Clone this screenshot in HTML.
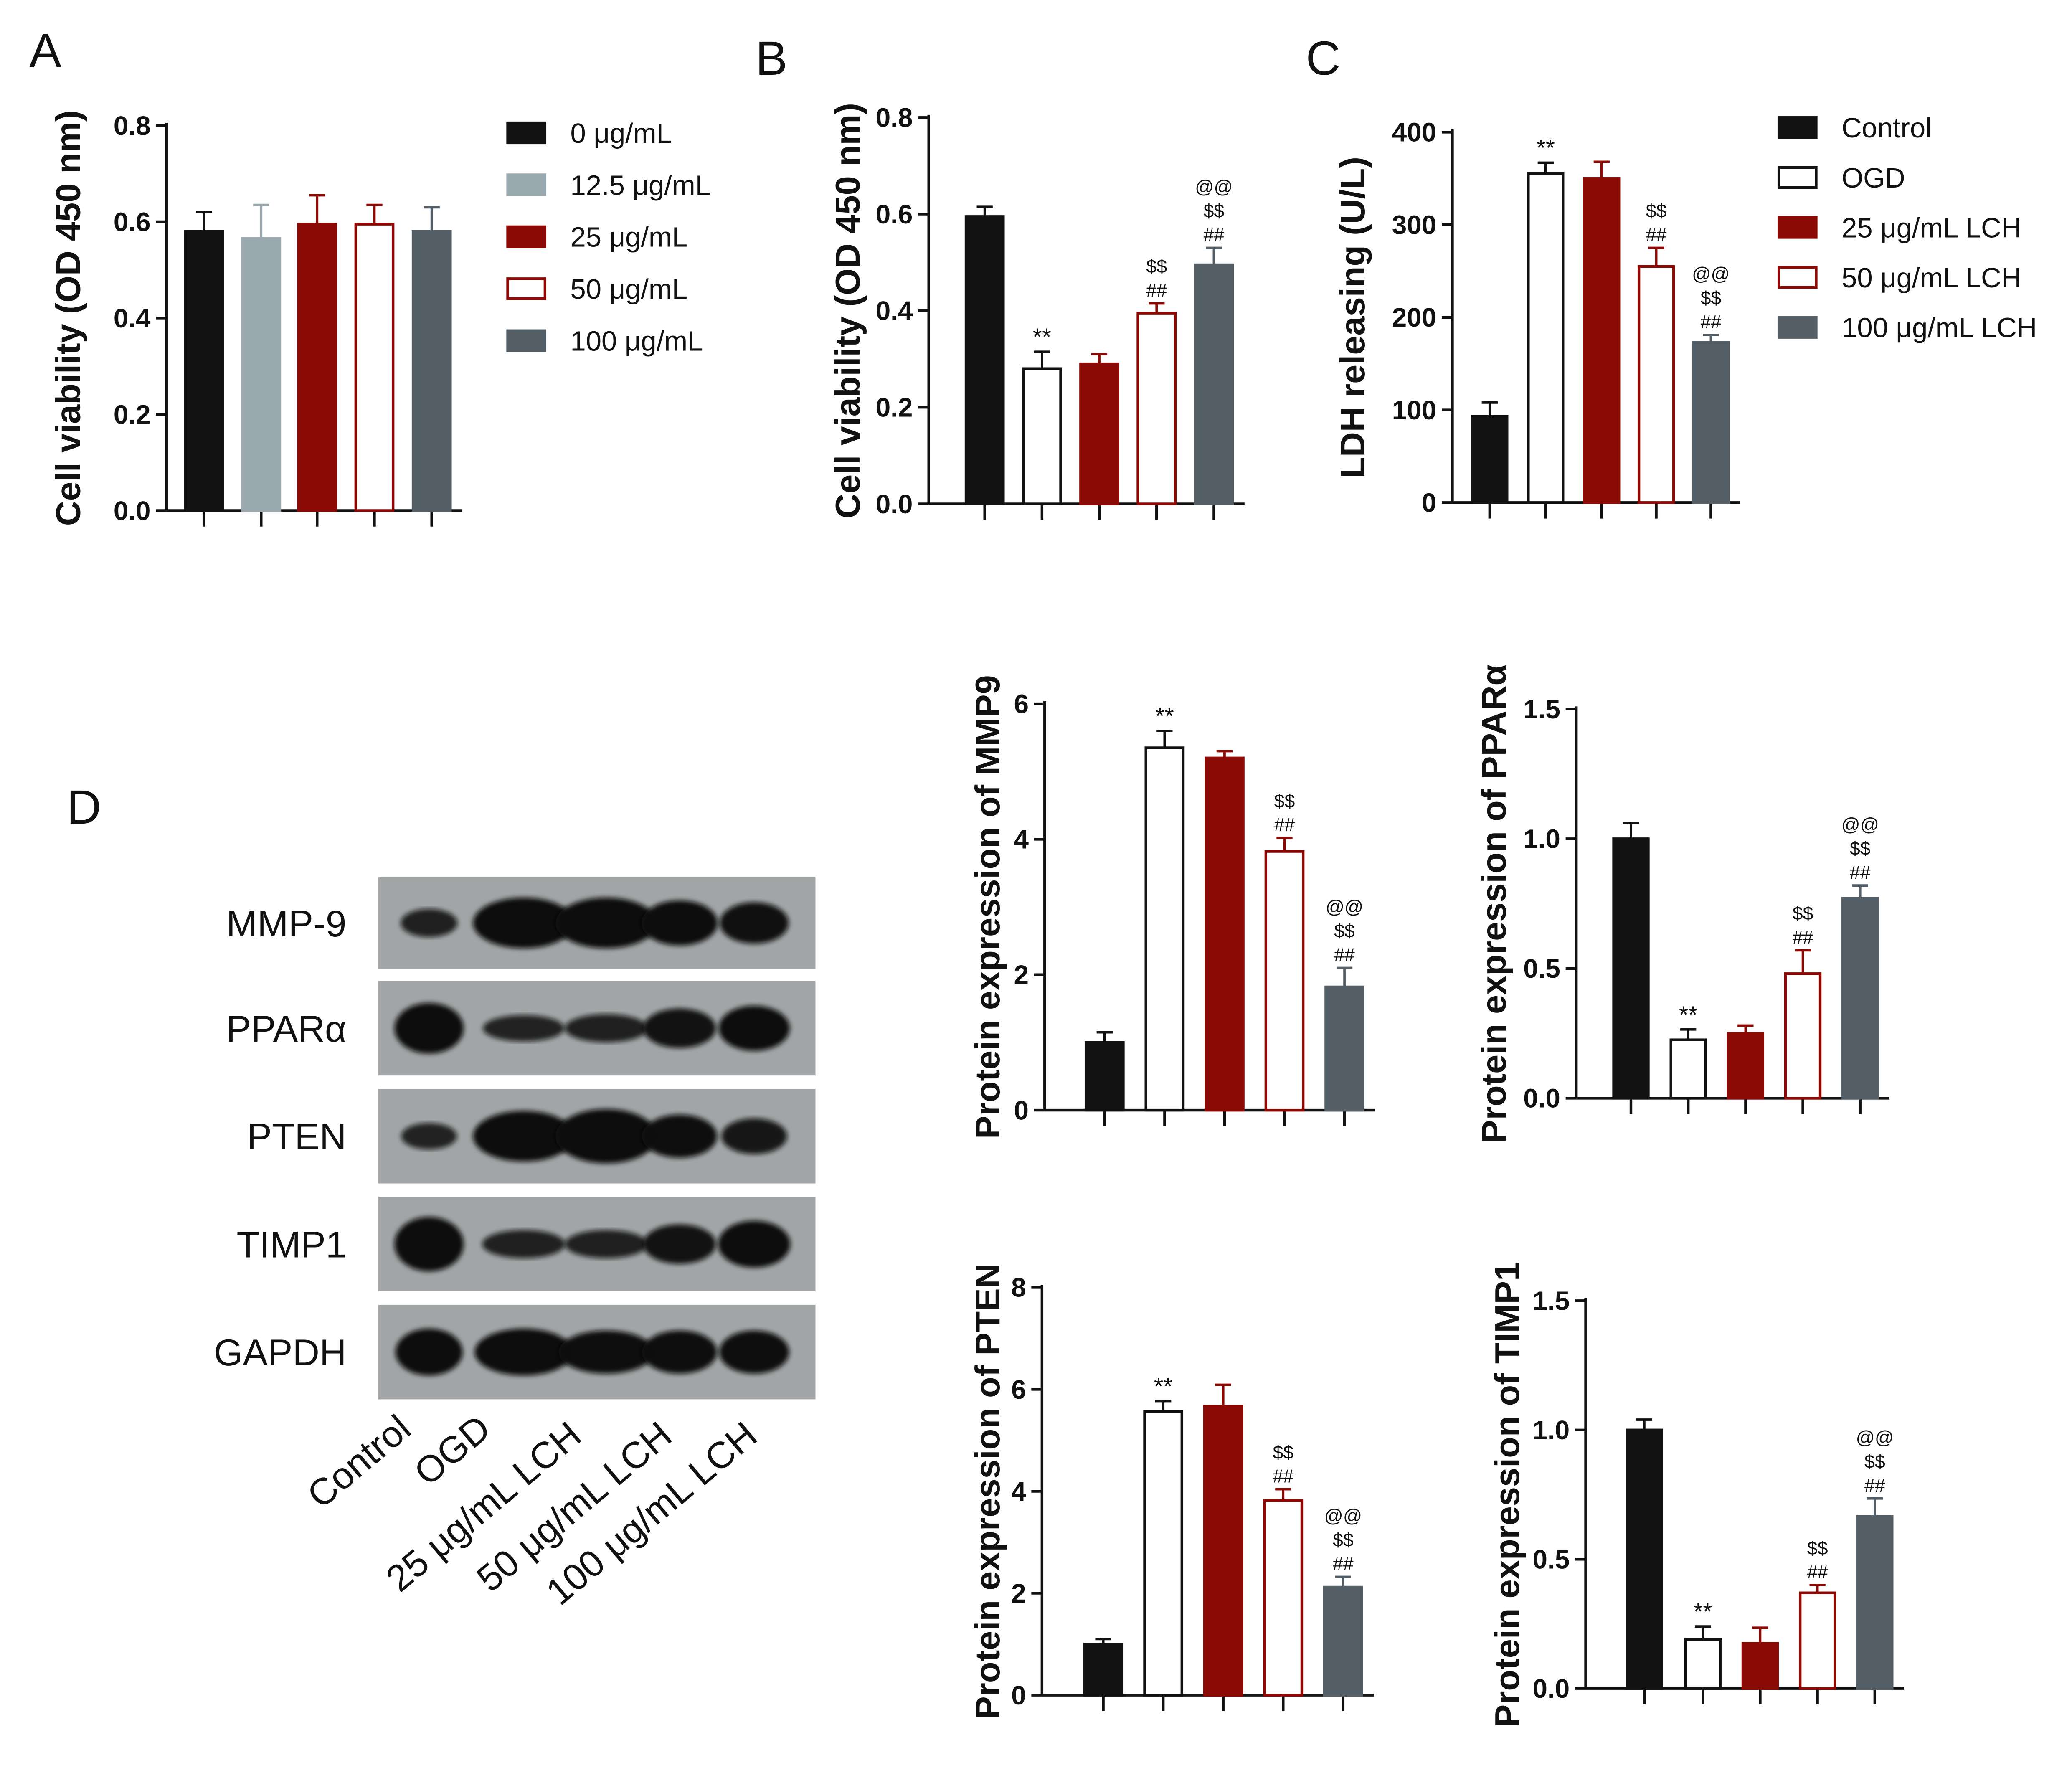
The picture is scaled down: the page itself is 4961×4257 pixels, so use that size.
<!DOCTYPE html>
<html><head><meta charset="utf-8"><style>
html,body{margin:0;padding:0;background:#fff;}
svg{display:block;font-family:"Liberation Sans",Arial,sans-serif;}
</style></head><body>
<svg id="fig" width="4961" height="4257" viewBox="0 0 1555 1334" xmlns="http://www.w3.org/2000/svg">
<defs>
<filter id="blur1"><feGaussianBlur stdDeviation="1.8"/></filter>
</defs>
<g id="root"></g>
</svg>
<script>
// ---------- data ----------
const aValues=[0.58,0.565,0.595,0.595,0.58];
const aErrors=[0.04,0.07,0.06,0.04,0.05];
const aTicks=[0,0.2,0.4,0.6,0.8];
const bValues=[0.595,0.28,0.29,0.395,0.495];
const bErrors=[0.02,0.035,0.02,0.02,0.035];
const bTicks=[0,0.2,0.4,0.6,0.8];
const cValues=[93,355,350,255,173];
const cErrors=[15,12,18,20,8];
const cTicks=[0,100,200,300,400];
const mmpValues=[1,5.35,5.2,3.82,1.82];
const mmpErrors=[0.15,0.25,0.1,0.2,0.28];
const mmpTicks=[0,2,4,6];
const pparValues=[1.0,0.225,0.25,0.48,0.77];
const pparErrors=[0.06,0.04,0.03,0.09,0.05];
const pparTicks=[0,0.5,1.0,1.5];
const ptenValues=[1,5.57,5.67,3.82,2.12];
const ptenErrors=[0.1,0.2,0.42,0.22,0.2];
const ptenTicks=[0,2,4,6,8];
const timpValues=[1,0.19,0.175,0.37,0.665];
const timpErrors=[0.04,0.05,0.06,0.03,0.07];
const timpTicks=[0,0.5,1.0,1.5];
const annotations=[[],["**"],[],["##","$$"],["##","$$","@@"]];
const doseLabels=["0 μg/mL","12.5 μg/mL","25 μg/mL","50 μg/mL","100 μg/mL"];
const groupLabels=["Control","OGD","25 μg/mL LCH","50 μg/mL LCH","100 μg/mL LCH"];

const NS="http://www.w3.org/2000/svg";
const root=document.getElementById('root');
function mk(tag,attrs,parent){const e=document.createElementNS(NS,tag);for(const k in attrs)e.setAttribute(k,attrs[k]);(parent||root).appendChild(e);return e;}
function txt(s,attrs,parent){const e=mk('text',attrs,parent);e.textContent=s;return e;}

const stylesA=[{f:'#111',s:'#111'},{f:'#9aa8b0',s:'#9aa8b0'},{f:'#8b0a05',s:'#8b0a05'},{f:'#fff',s:'#8b0a05'},{f:'#535e66',s:'#535e66'}];
const stylesG=[{f:'#111',s:'#111'},{f:'#fff',s:'#111'},{f:'#8b0a05',s:'#8b0a05'},{f:'#fff',s:'#8b0a05'},{f:'#535e66',s:'#535e66'}];

function chart(name,cfg){
  const g=mk('g',{});
  
  
  const {ax,y0,yTop,max,ticks,centers,values,errors,styles,title,ann,bw,tickFmt}=cfg;
  const y=v=>y0-(v/max)*(y0-yTop);
  const axis=mk('line',{x1:ax,y1:y0,x2:ax,y2:yTop-2,stroke:'#111','stroke-width':2},g);
  
  
  const xEnd=centers[centers.length-1]+bw/2+8;
  const xa=mk('line',{x1:ax,y1:y0,x2:xEnd,y2:y0,stroke:'#111','stroke-width':2},g);
  
  
  ticks.forEach(t=>{
    mk('line',{x1:ax-8,y1:y(t),x2:ax,y2:y(t),stroke:'#111','stroke-width':2},g);
    const tl=txt(tickFmt(t),{x:ax-12,y:y(t)+7,'text-anchor':'end','font-size':20,'font-weight':'bold',fill:'#111'},g);
    
    
  });
  centers.forEach((cx,i)=>{
    mk('line',{x1:cx,y1:y0,x2:cx,y2:y0+12,stroke:'#111','stroke-width':2},g);
    const top=y(values[i]), et=y(values[i]+errors[i]);
    mk('line',{x1:cx,y1:top,x2:cx,y2:et,stroke:styles[i].s,'stroke-width':1.8},g);
    mk('line',{x1:cx-6,y1:et,x2:cx+6,y2:et,stroke:styles[i].s,'stroke-width':1.8},g);
    const r=mk('rect',{x:cx-bw/2+1,y:top,width:bw-2,height:y0-top,fill:styles[i].f,stroke:styles[i].s,'stroke-width':2},g);
    
    
    if(ann){(ann[i]||[]).forEach((a,k)=>{
      const at=txt(a,{x:cx,y:et-5-k*18,'text-anchor':'middle','font-size':a==='**'?18:14,fill:'#111'},g);
      
      
    });}
  });
  const ty=(y0+yTop)/2;
  const tt=txt(title,{x:cfg.titleX,y:ty,transform:`rotate(-90 ${cfg.titleX} ${ty})`,'text-anchor':'middle','font-size':26,'font-weight':'bold',fill:'#111'},g);
  
  
}
const f1=t=>t.toFixed(1), f0=t=>String(t);

chart('chart-a',{ax:125,y0:383,yTop:94,max:0.8,ticks:aTicks,centers:[153,196,238,281,324],values:aValues,errors:aErrors,styles:stylesA,title:'Cell viability (OD 450 nm)',titleX:60,bw:30,tickFmt:f1});
chart('chart-b',{ax:697,y0:378,yTop:88,max:0.8,ticks:bTicks,centers:[739,782,825,868,911],values:bValues,errors:bErrors,styles:stylesG,title:'Cell viability (OD 450 nm)',titleX:645,bw:30,tickFmt:f1,ann:annotations});
chart('chart-c',{ax:1090,y0:377,yTop:99,max:400,ticks:cTicks,centers:[1118,1160,1202,1243,1284],values:cValues,errors:cErrors,styles:stylesG,title:'LDH  releasing (U/L)',titleX:1024,bw:28,tickFmt:f0,ann:annotations});
chart('chart-mmp9',{ax:784,y0:833,yTop:528,max:6,ticks:mmpTicks,centers:[829,874,919,964,1009],values:mmpValues,errors:mmpErrors,styles:stylesG,title:'Protein expression of MMP9',titleX:750,bw:30,tickFmt:f0,ann:annotations});
chart('chart-ppar',{ax:1183,y0:824,yTop:532,max:1.5,ticks:pparTicks,centers:[1224,1267,1310,1353,1396],values:pparValues,errors:pparErrors,styles:stylesG,title:'Protein expression of PPARα',titleX:1130,bw:28,tickFmt:f1,ann:annotations});
chart('chart-pten',{ax:782,y0:1272,yTop:966,max:8,ticks:ptenTicks,centers:[828,873,918,963,1008],values:ptenValues,errors:ptenErrors,styles:stylesG,title:'Protein expression of PTEN',titleX:750,bw:30,tickFmt:f0,ann:annotations});
chart('chart-timp1',{ax:1190,y0:1267,yTop:976,max:1.5,ticks:timpTicks,centers:[1234,1278,1321,1364,1407],values:timpValues,errors:timpErrors,styles:stylesG,title:'Protein expression of TIMP1',titleX:1140,bw:28,tickFmt:f1,ann:annotations});

// legends
function legend(name,x,y0,dy,labels,styles){
  const g=mk('g',{});
  
  
  labels.forEach((l,i)=>{
    const y=y0+i*dy;
    mk('rect',{x:x+1,y:y-8,width:28,height:15,fill:styles[i].f,stroke:styles[i].s,'stroke-width':2},g);
    const t=txt(l,{x:x+48,y:y+7,'font-size':21,fill:'#111'},g);
    
    
  });
}
legend('legend-a',380,100,39,doseLabels,stylesA);
legend('legend-c',1334,96,37.5,groupLabels,stylesG);

// panel letters
[['A',22,50],['B',567,56],['C',980,56],['D',50,618]].forEach(p=>{
  const t=txt(p[0],{x:p[1],y:p[2],'font-size':36,fill:'#111'});
  
  
});

// western blot
const blotRows=[["MMP-9",658,727],["PPARα",736,807],["PTEN",817,888],["TIMP1",898,969],["GAPDH",979,1050]];
const bandX=[322,393,455,510,566];
const bandW=[[26,0.8],[38,1],[38,1],[30,1],[28,0.9]];
const bandInt=[[0.4,1,1,0.85,0.75],[1,0.35,0.4,0.7,0.85],[0.35,1,1.1,0.8,0.6],[1.1,0.4,0.4,0.7,0.9],[0.9,0.9,0.8,0.8,0.8]];
const wb=mk('g',{});


blotRows.forEach((r,ri)=>{
  const rect=mk('rect',{x:284,y:r[1],width:328,height:r[2]-r[1],fill:'#a2a5a6'},wb);
  
  
  const cy=(r[1]+r[2])/2;
  bandX.forEach((bx,i)=>{
    const k=bandInt[ri][i];
    mk('ellipse',{cx:bx,cy:cy,rx:bandW[i][0]*Math.min(1,0.7+k*0.3),ry:5+k*14,fill:'#0d0d0d',filter:'url(#blur1)',opacity:Math.min(1,0.75+k*0.3)},wb);
  });
  const t=txt(r[0],{x:260,y:cy+10,'text-anchor':'end','font-size':28,fill:'#111'},wb);
  
  
});
const lanes=[[310,1075],[370,1075],[438,1080],[506,1080],[570,1080]];
groupLabels.forEach((l,i)=>{
  const t=txt(l,{x:lanes[i][0],y:lanes[i][1],'text-anchor':'end','font-size':28,fill:'#111',transform:`rotate(-40 ${lanes[i][0]} ${lanes[i][1]})`},wb);
  
  
});
</script>
</body></html>
